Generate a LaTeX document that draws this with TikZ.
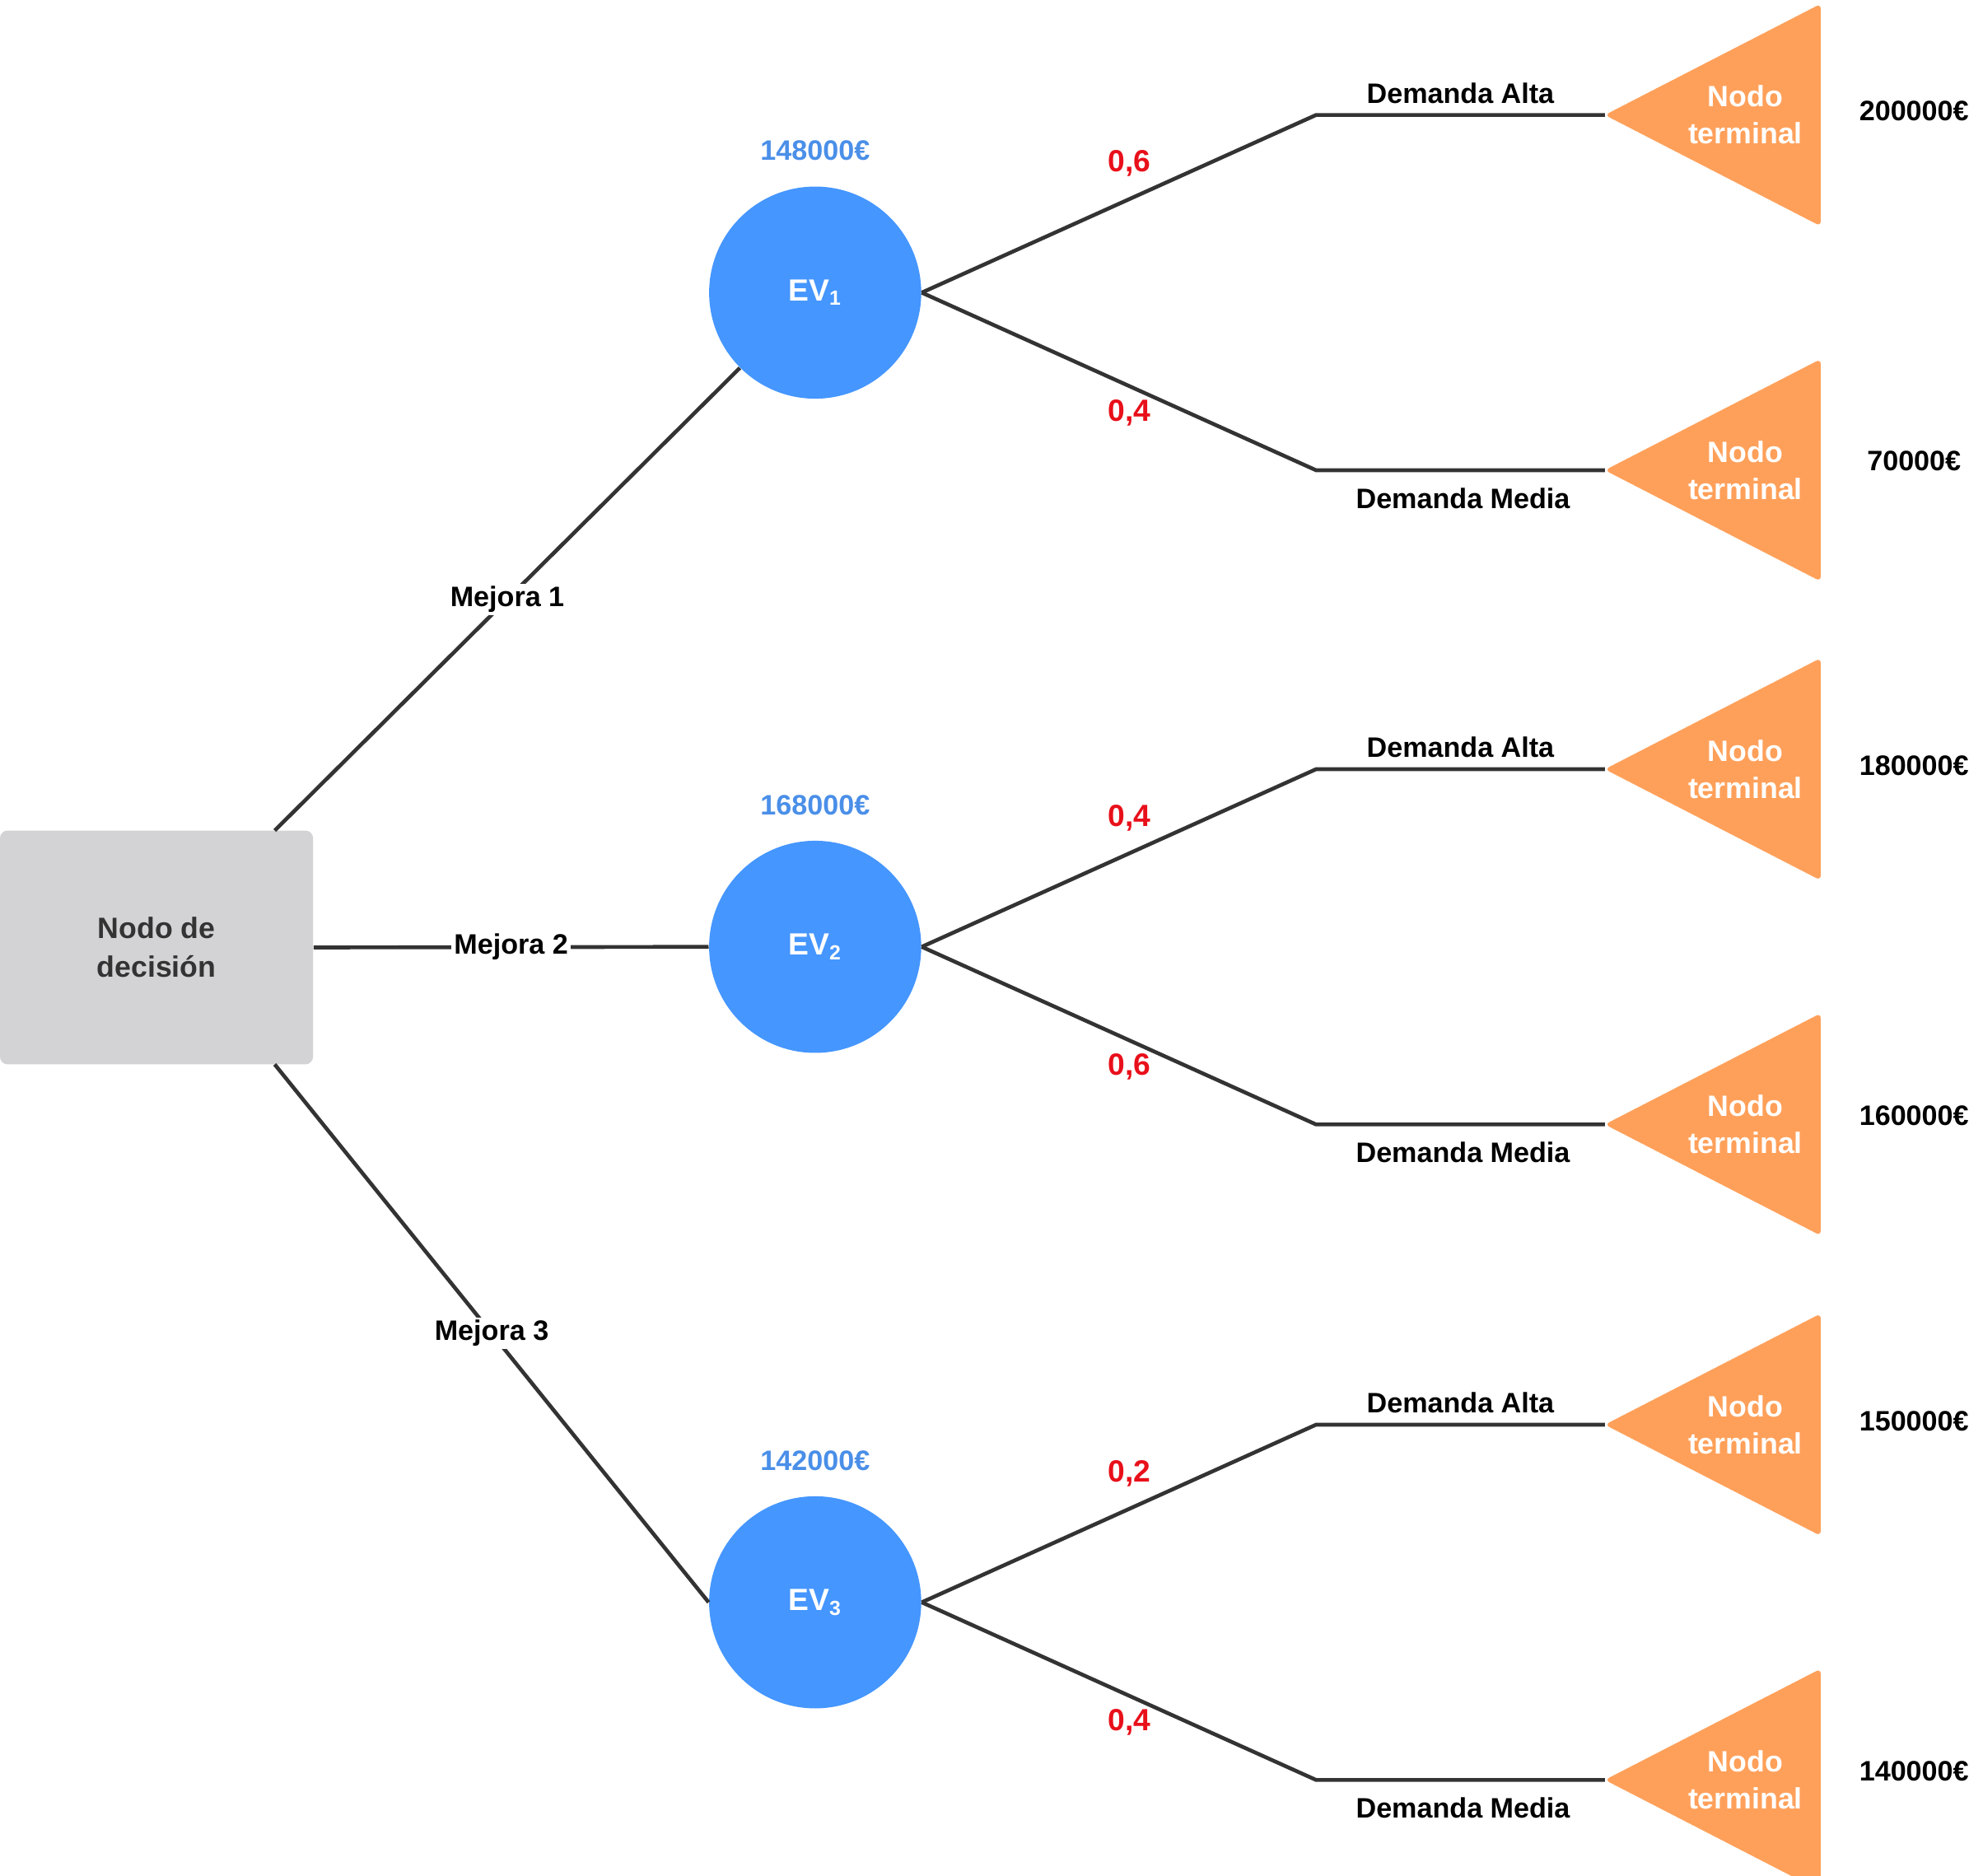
\documentclass[tikz,border=0pt]{standalone}
\usepackage{fontspec}
\setmainfont{Liberation Sans}
\definecolor{ln}{HTML}{333333}
\definecolor{blu}{HTML}{4596FF}
\definecolor{bluT}{HTML}{4A8FE8}
\definecolor{org}{HTML}{FFA05A}
\definecolor{grayb}{HTML}{D3D3D5}
\definecolor{rd}{HTML}{E8101A}
\begin{document}
\begin{tikzpicture}[x=0.5pt,y=-0.5pt,
  lbl/.style={font=\bfseries\fontsize{11}{13}\selectfont,text=black},
  lblw/.style={lbl,fill=white,inner sep=1pt},
  prob/.style={font=\bfseries\fontsize{12}{14}\selectfont,text=rd},
  val/.style={font=\bfseries\fontsize{11}{13}\selectfont,text=bluT},
  ev/.style={circle,fill=blu,minimum size=83pt,inner sep=0,text=white,font=\bfseries\fontsize{12}{14}\selectfont},
  con/.style={draw=ln,line width=1.5pt},
  term/.style={text=white,font=\bfseries\fontsize{11.5}{14.5}\selectfont,align=center}]
\useasboundingbox (0,0) rectangle (1552,1468);
\node[fill=grayb,rounded corners=3pt,minimum width=122.5pt,minimum height=91.5pt,inner sep=0,text=ln,align=center,font=\bfseries\fontsize{11.5}{15}\selectfont] (dec) at (122.5,741.5) {Nodo de\\decisión};
\foreach \i/\y/\v/\pa/\pb/\ta/\tb in {1/229/{148000€}/{0,6}/{0,4}/{200000€}/{70000€}, 2/741/{168000€}/{0,4}/{0,6}/{180000€}/{160000€}, 3/1254/{142000€}/{0,2}/{0,4}/{150000€}/{140000€}}{
  \node[ev] (ev\i) at (638,\y) {EV\textsubscript{\i}};
  \node[val] (v\i) at (638,\y-111) {\v};
  \coordinate (ka\i) at (1030,\y-139);
  \coordinate (kb\i) at (1030,\y+139);
  \coordinate (ta\i) at (1256,\y-139);
  \coordinate (tb\i) at (1256,\y+139);
  \draw[con] (ev\i.east) -- (ka\i) -- (ta\i);
  \draw[con] (ev\i.east) -- (kb\i) -- (tb\i);
  \fill[org,rounded corners=2pt] (ta\i) -- (1425,\y-226) -- (1425,\y-52) -- cycle;
  \fill[org,rounded corners=2pt] (tb\i) -- (1425,\y+52) -- (1425,\y+226) -- cycle;
  \node[term] (na\i) at (1366,\y-139) {Nodo\\terminal};
  \node[term] (nb\i) at (1366,\y+139) {Nodo\\terminal};
  \node[prob] (pa\i) at (884,\y-101) {\pa};
  \node[prob] (pb\i) at (884,\y+94) {\pb};
  \node[lbl] (da\i) at (1143,\y-156) {Demanda Alta};
  \node[lbl] (dm\i) at (1145,\y+161) {Demanda Media};
  \node[lbl] (ra\i) at (1498,\y-142) {\ta};
  \node[lbl] (rb\i) at (1498,\y+132) {\tb};
}
\coordinate (d1) at (215,650);
\coordinate (d3) at (215,833);
\draw[con] (d1) -- (ev1.225) node[lblw,pos=0.5] (m1) {Mejora 1};
\draw[con] (dec.east) -- (ev2.west) node[lblw,midway] (m2) {Mejora 2};
\draw[con] (d3) -- (ev3.west) node[lblw,pos=0.5] (m3) {Mejora 3};
\end{tikzpicture}
\end{document}
